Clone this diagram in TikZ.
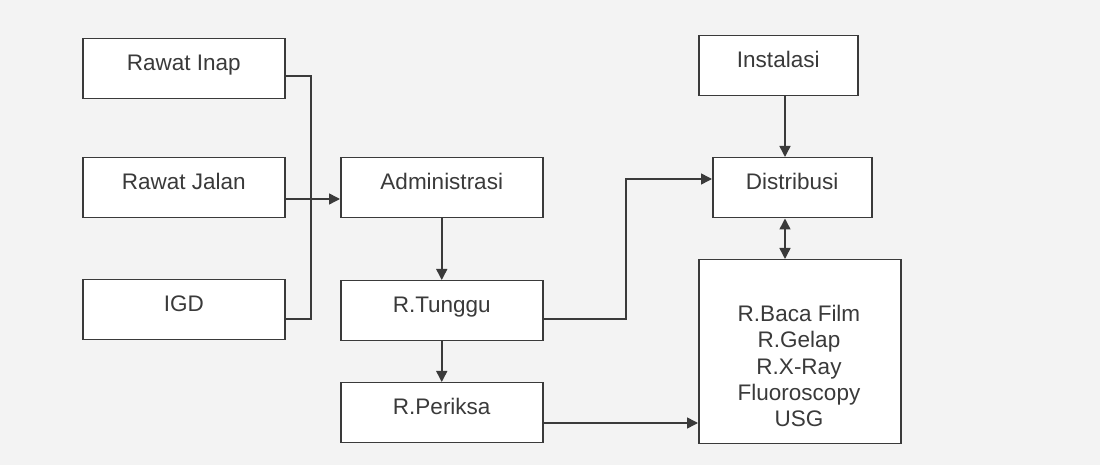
\documentclass[tikz,border=0pt]{standalone}
\usepackage{fontspec}
\setmainfont{Liberation Sans}
\usetikzlibrary{arrows.meta,calc}
\definecolor{ink}{HTML}{3A3A3A}
\definecolor{paper}{HTML}{F3F3F3}
\begin{document}
\begin{tikzpicture}[x=0.5pt,y=-0.5pt,
  lbl/.style={font=\fontsize{11.25}{13.1}\selectfont, text=ink},
  box/.style={lbl, draw=ink, fill=white, line width=0.75pt, inner sep=0pt,
              text height=16pt, text depth=14pt, anchor=north west},
  wide/.style={box, minimum width=101pt},
  narrow/.style={box, minimum width=79.5pt},
  link/.style={draw=ink, line width=0.75pt},
  tip/.tip={Triangle[length=5.5pt,width=5.5pt]},
  arr/.style={link, -tip},
  twoway/.style={link, tip-tip},
]
\useasboundingbox[fill=paper] (0,0) rectangle (1100,465);

% units
\node[wide] (inap)  at (82,38)  {Rawat Inap};
\node[wide] (jalan) at (82,157) {Rawat Jalan};
\node[wide] (igd)   at (82,279) {IGD};

% central flow
\node[wide] (admin)   at (340,157) {Administrasi};
\node[wide] (tunggu)  at (340,280) {R.Tunggu};
\node[wide] (periksa) at (340,382) {R.Periksa};

% installation side
\node[narrow] (inst) at (698,35)  {Instalasi};
\node[narrow] (dist) at (712,157) {Distribusi};
\node[draw=ink, fill=white, line width=0.75pt, inner sep=0pt,
      minimum width=101pt, minimum height=92pt, anchor=north west] (ruang) at (698,259) {};
\node[lbl, align=center, inner sep=0pt, anchor=north] (ruangtxt) at (799,305)
  {R.Baca Film\\R.Gelap\\R.X-Ray\\Fluoroscopy\\USG};

% collector bus from the three units
\coordinate (busTop) at (311,76);
\coordinate (busBot) at (311,319);
\draw[link] (inap.east |- busTop) -- (busTop) -- (busBot) -- (igd.east |- busBot);
\draw[arr] (jalan.east |- 0,199) -- (admin.west |- 0,199);

\draw[arr] (admin.south) -- (tunggu.north);
\draw[arr] (tunggu.south) -- (periksa.north);

% waiting room to distribution
\coordinate (bendLow) at (626,319);
\coordinate (bendHigh) at (626,179);
\draw[arr] (tunggu.east |- bendLow) -- (bendLow) -- (bendHigh) -- (dist.west |- bendHigh);

\draw[arr] (inst.south -| 785,0) -- (dist.north -| 785,0);
\draw[twoway] (dist.south -| 785,0) -- (ruang.north -| 785,0);
\draw[arr] (periksa.east |- 0,423) -- (ruang.west |- 0,423);
\end{tikzpicture}
\end{document}
